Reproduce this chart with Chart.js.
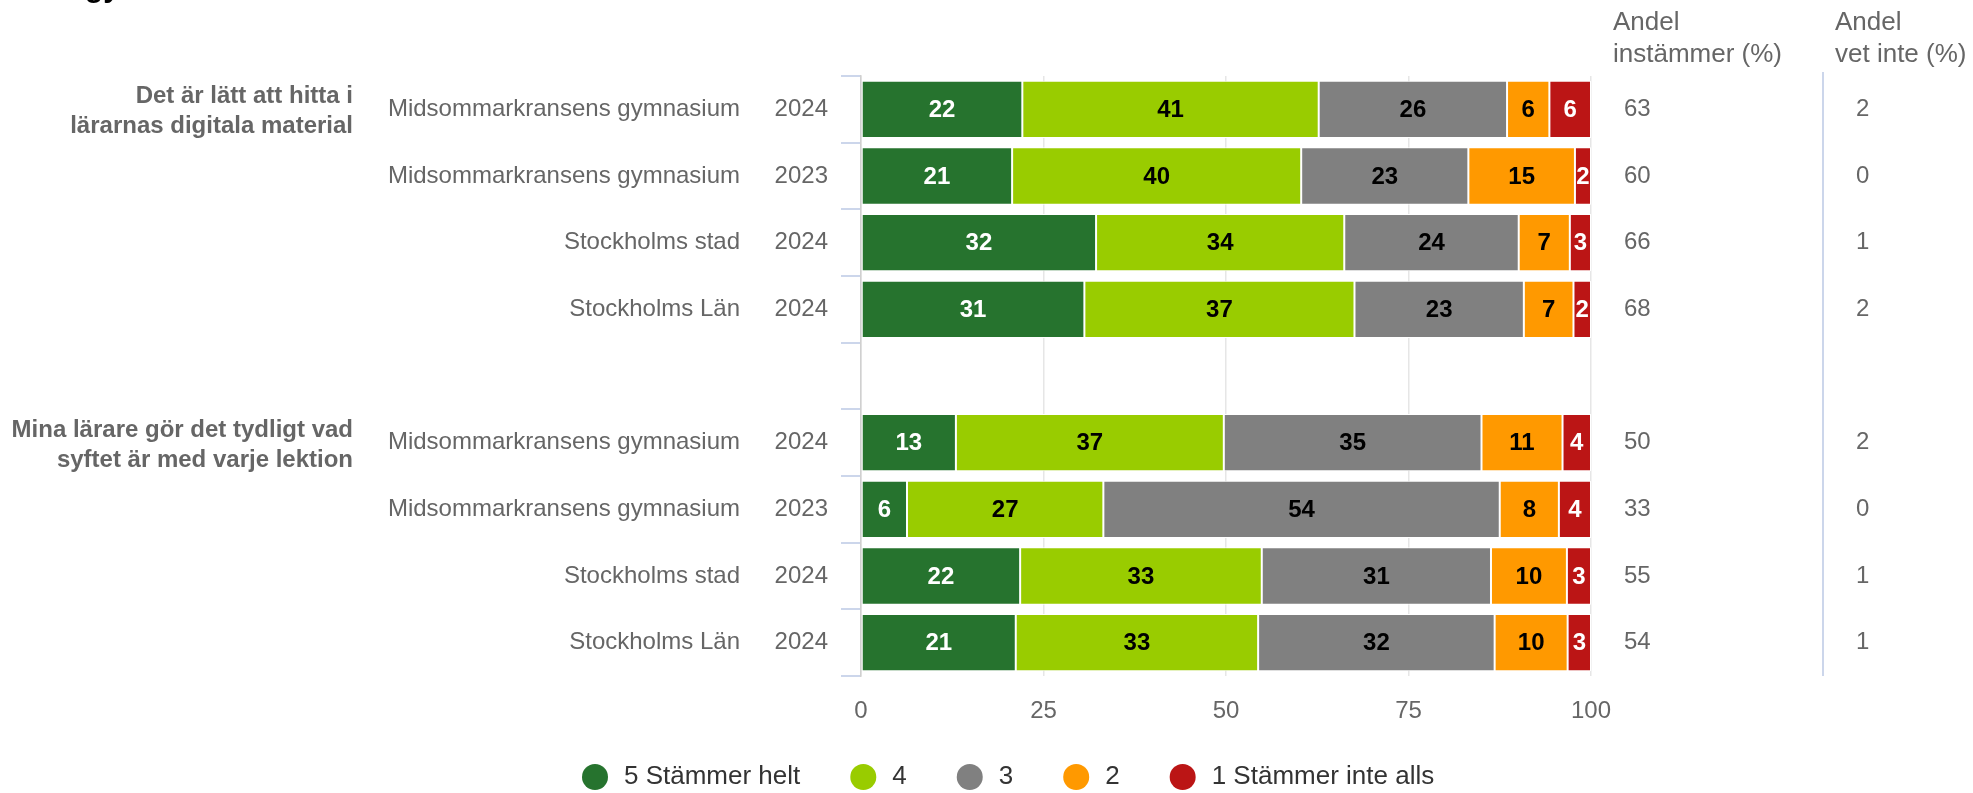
<!DOCTYPE html>
<html lang="sv">
<head>
<meta charset="utf-8">
<title>Digitalt material och lektionens syfte</title>
<script src="https://cdn.jsdelivr.net/npm/chart.js@4.4.1/dist/chart.umd.min.js"></script>
<style>
  html, body { margin: 0; padding: 0; background: #fff; overflow: hidden; }
  #wrap { position: relative; width: 1973px; height: 793px; }
  #frag { position: absolute; left: 85px; top: -30px; font: bold 30px "Liberation Sans", Arial, sans-serif; color: #000; }
</style>
</head>
<body>
<div id="wrap">
  <canvas id="chart" width="1973" height="793"></canvas>
  <div id="frag">gy</div>
</div>
<script>
(function(){
  'use strict';

  // Rows (index 4 is the empty spacer between the two questions)
  const regions = ['Midsommarkransens gymnasium', 'Midsommarkransens gymnasium', 'Stockholms stad', 'Stockholms Län', '',
                   'Midsommarkransens gymnasium', 'Midsommarkransens gymnasium', 'Stockholms stad', 'Stockholms Län'];
  const years = ['2024', '2023', '2024', '2024', '', '2024', '2023', '2024', '2024'];

  const questions = [
    ['Det är lätt att hitta i', 'lärarnas digitala material'],
    ['Mina lärare gör det tydligt vad', 'syftet är med varje lektion']
  ];
  const questionRows = [0, 5];

  const seriesNames = ['5 Stämmer helt', '4', '3', '2', '1 Stämmer inte alls'];
  const s5 = [22.1, 20.7, 32.2, 30.6, null, 13.0, 6.3, 21.8, 21.2];
  const s4 = [40.6, 39.6, 34.0, 37.0, null, 36.7, 26.9, 33.1, 33.2];
  const s3 = [25.8, 22.9, 23.9, 23.2, null, 35.3, 54.3, 31.4, 32.4];
  const s2 = [5.8, 14.6, 7.0, 6.8, null, 11.1, 8.1, 10.4, 10.0];
  const s1 = [5.7, 2.2, 2.9, 2.4, null, 3.9, 4.4, 3.3, 3.2];

  const agree = [63, 60, 66, 68, null, 50, 33, 55, 54];
  const dontKnow = [2, 0, 1, 2, null, 2, 0, 1, 1];

  const xTicks = [0, 25, 50, 75, 100];

  const colors = ['#26732e', '#99cc00', '#808080', '#ff9900', '#bb1515'];
  const labelColors = ['#fff', '#000', '#000', '#000', '#fff'];
  const FONT = '"Liberation Sans", Arial, Helvetica, sans-serif';

  Chart.defaults.font.family = FONT;
  Chart.defaults.color = '#666';

  const valuesPlugin = {
    id: 'values',
    afterDatasetsDraw(chart){
      const ctx = chart.ctx;
      ctx.save();
      ctx.font = 'bold 24px ' + FONT;
      ctx.textAlign = 'center';
      ctx.textBaseline = 'middle';
      chart.data.datasets.forEach((ds, di) => {
        const meta = chart.getDatasetMeta(di);
        meta.data.forEach((bar, i) => {
          const v = ds.data[i];
          if (v == null) return;
          ctx.fillStyle = labelColors[di];
          ctx.fillText(String(Math.round(v)), (bar.x + bar.base) / 2, bar.y + 1);
        });
      });
      ctx.restore();
    }
  };

  const sidePlugin = {
    id: 'side',
    afterDraw(chart){
      const ctx = chart.ctx;
      const y = chart.scales.y;
      const area = chart.chartArea;
      ctx.save();
      ctx.textBaseline = 'middle';
      ctx.fillStyle = '#666';

      // row labels and right-hand columns
      ctx.font = '24px ' + FONT;
      regions.forEach((r, i) => {
        if (!r) return;
        const py = y.getPixelForValue(i);
        ctx.textAlign = 'right';
        ctx.fillText(r, area.left - 121, py);
        ctx.fillText(years[i], area.left - 33, py);
        ctx.textAlign = 'left';
        ctx.fillText(String(agree[i]), 1624, py);
        ctx.fillText(String(dontKnow[i]), 1856, py);
      });

      // question labels
      ctx.font = 'bold 24px ' + FONT;
      ctx.textAlign = 'right';
      questions.forEach((q, qi) => {
        const py = y.getPixelForValue(questionRows[qi]);
        ctx.fillText(q[0], 353, py - 12.5);
        ctx.fillText(q[1], 353, py + 17.5);
      });

      // column headers
      ctx.font = '26px ' + FONT;
      ctx.textAlign = 'left';
      ctx.textBaseline = 'alphabetic';
      ctx.fillText('Andel', 1613, 30);
      ctx.fillText('instämmer (%)', 1613, 62);
      ctx.fillText('Andel', 1835, 30);
      ctx.fillText('vet inte (%)', 1835, 62);

      // separator between the two columns
      ctx.strokeStyle = '#ccd6eb';
      ctx.lineWidth = 2;
      ctx.beginPath();
      ctx.moveTo(1823, area.top - 4);
      ctx.lineTo(1823, area.bottom);
      ctx.stroke();

      // legend
      ctx.font = '26px ' + FONT;
      ctx.textBaseline = 'middle';
      let lx = 582;
      const ly = 777;
      seriesNames.forEach((name, i) => {
        ctx.fillStyle = colors[i];
        ctx.beginPath();
        ctx.arc(lx + 13, ly, 13, 0, Math.PI * 2);
        ctx.fill();
        ctx.fillStyle = '#333';
        ctx.fillText(name, lx + 42, ly);
        lx += 42 + ctx.measureText(name).width + 50;
      });
      ctx.restore();
    }
  };

  new Chart(document.getElementById('chart'), {
    type: 'bar',
    data: {
      labels: regions.map((r, i) => r ? r + ' ' + years[i] : ''),
      datasets: seriesNames.map((name, i) => ({
        label: name,
        data: [s5, s4, s3, s2, s1][i],
        backgroundColor: colors[i],
        borderColor: '#fff',
        borderWidth: 1,
        borderSkipped: false,
        categoryPercentage: 1,
        barPercentage: 0.86
      }))
    },
    options: {
      indexAxis: 'y',
      responsive: false,
      animation: false,
      devicePixelRatio: 1,
      layout: { padding: { left: 841, right: 382, top: 76, bottom: 0 } },
      plugins: {
        legend: { display: false },
        tooltip: { enabled: false }
      },
      scales: {
        x: {
          stacked: true,
          min: 0,
          max: 100,
          afterBuildTicks(s){ s.ticks = xTicks.map(v => ({ value: v })); },
          afterFit(s){ s.height = 117; },
          ticks: { color: '#666', font: { size: 24 }, padding: 21 },
          grid: { color: '#e6e6e6', lineWidth: 1.5, drawTicks: false },
          border: { display: false }
        },
        y: {
          stacked: true,
          afterFit(s){ s.width = 20; },
          ticks: { display: false },
          grid: {
            offset: true,
            drawOnChartArea: false,
            drawTicks: true,
            tickLength: 20,
            color: '#ccd6eb',
            lineWidth: 2
          },
          border: { display: true, color: '#d0d0d0', width: 1.5 }
        }
      }
    },
    plugins: [valuesPlugin, sidePlugin]
  });
})();
</script>
</body>
</html>
